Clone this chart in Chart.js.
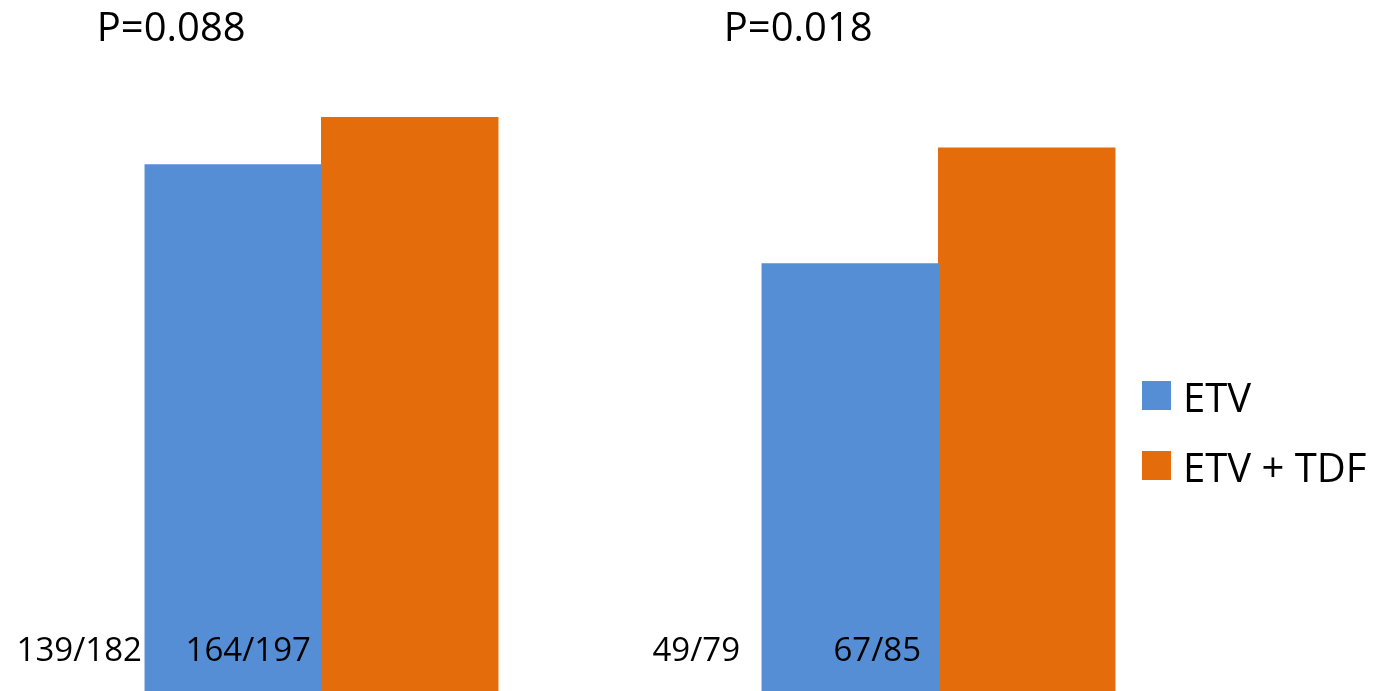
<!DOCTYPE html>
<html>
<head>
<meta charset="utf-8">
<script src="https://cdn.jsdelivr.net/npm/chart.js@4.4.1/dist/chart.umd.min.js"></script>
<style>
  html, body { margin: 0; padding: 0; background: #fff; }
  #wrap { width: 1380px; height: 691px; position: relative; }
</style>
</head>
<body>
<div id="wrap"><canvas id="respChart"></canvas></div>
<script>
// groups and their p-values
var groups = ['A', 'B'];
var pValues = ['P=0.088', 'P=0.018'];

// responders / total per arm
var etvNum = [139, 49];
var etvDen = [182, 79];
var tdfNum = [164, 67];
var tdfDen = [197, 85];

var seriesNames = ['ETV', 'ETV + TDF'];
var seriesColors = ['#558ED5', '#E46C0A'];

function ratio(n, d) {
    return n.map(function (v, i) { return v / d[i]; });
}

var FONT = '"Open Sans", "Liberation Sans", sans-serif';

// horizontal nudges of the hand-placed texts, per group
var pShift = [-62, -52];
var tdfShift = [15, 27];

// count labels, p-values and the legend are painted by hand
var annotate = {
    id: 'annotate',
    afterDatasetsDraw: function (chart) {
        var ctx = chart.ctx;
        var blue = chart.getDatasetMeta(0).data;
        ctx.save();
        ctx.fillStyle = '#000';

        // n/N under each group
        ctx.font = '33px ' + FONT;
        ctx.textAlign = 'center';
        ctx.textBaseline = 'alphabetic';
        blue.forEach(function (bar, i) {
            ctx.fillText(etvNum[i] + '/' + etvDen[i], bar.x - 154, 661);
            ctx.fillText(tdfNum[i] + '/' + tdfDen[i], bar.x + tdfShift[i], 661);
        });

        // p-values above each group
        ctx.font = '40px ' + FONT;
        blue.forEach(function (bar, i) {
            ctx.fillText(pValues[i], bar.x + pShift[i], 41);
        });

        // legend
        ctx.textAlign = 'left';
        seriesNames.forEach(function (name, k) {
            var y = 381 + k * 70;
            ctx.fillStyle = seriesColors[k];
            ctx.fillRect(1142, y, 29, 29);
            ctx.fillStyle = '#000';
            ctx.fillText(name, 1183, y + 31);
        });
        ctx.restore();
    }
};

new Chart(document.getElementById('respChart'), {
    type: 'bar',
    data: {
        labels: groups,
        datasets: [
            {
                label: seriesNames[0],
                data: ratio(etvNum, etvDen),
                backgroundColor: seriesColors[0],
                borderWidth: 0,
                inflateAmount: 0.5
            },
            {
                label: seriesNames[1],
                data: ratio(tdfNum, tdfDen),
                backgroundColor: seriesColors[1],
                borderWidth: 0,
                inflateAmount: 0.5
            }
        ]
    },
    options: {
        responsive: true,
        maintainAspectRatio: false,
        animation: false,
        datasets: {
            bar: { categoryPercentage: 0.572, barPercentage: 1 }
        },
        layout: { padding: { left: 13, right: 133, top: 2, bottom: 0 } },
        plugins: {
            legend: { display: false },
            tooltip: { enabled: false }
        },
        scales: {
            x: { display: false },
            y: { display: false, min: 0, max: 1 }
        }
    },
    plugins: [annotate]
});
</script>
</body>
</html>
